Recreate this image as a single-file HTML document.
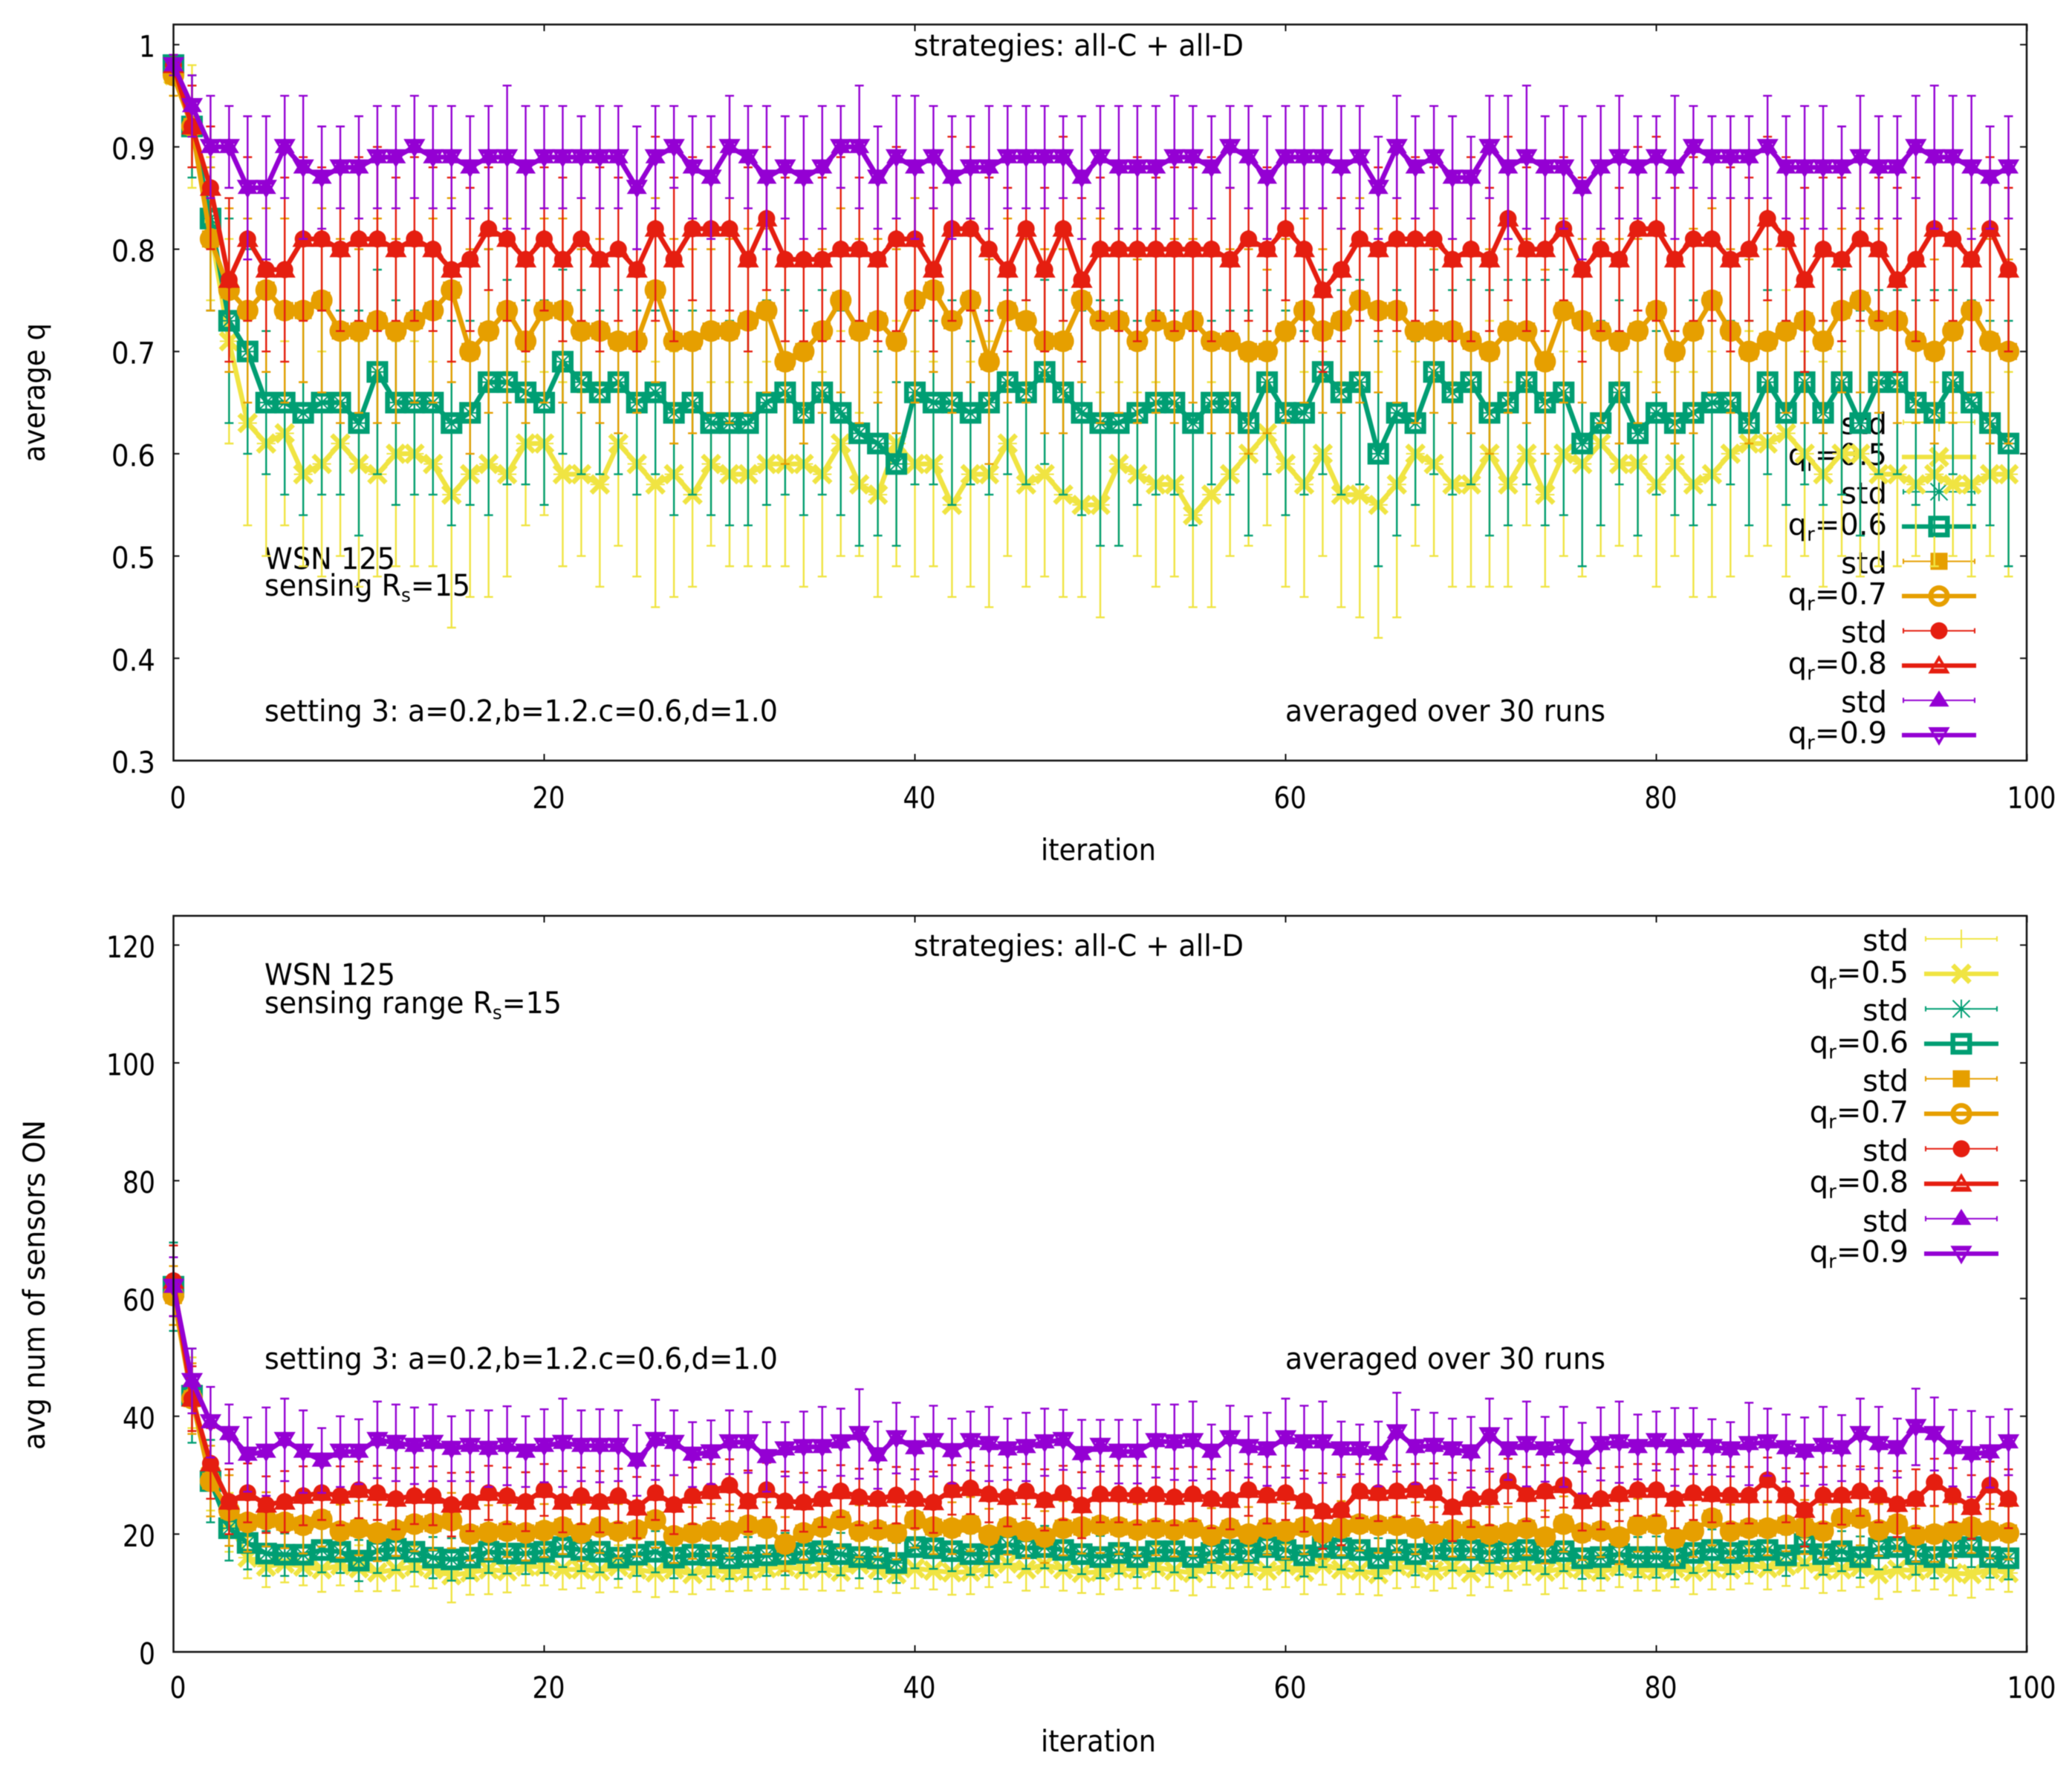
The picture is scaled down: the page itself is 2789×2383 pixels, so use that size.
<!DOCTYPE html>
<html lang="en">
<head>
<meta charset="utf-8">
<title>WSN 125 average q and sensors ON</title>
<style>
html,body{margin:0;padding:0;background:#fff;}
svg{display:block;filter:blur(.5px);}
text{font-family:"DejaVu Sans","Liberation Sans",sans-serif;font-size:40px;fill:#000;}
</style>
</head>
<body>
<svg id="figure" xmlns="http://www.w3.org/2000/svg" width="2789" height="2383" viewBox="0 0 2789 2383">
<rect x="0" y="0" width="2789" height="2383" fill="#fff"/>

<g id="panel-q">
  <g id="q-ticks"></g>
  <text transform="translate(60,622) rotate(-90)" textLength="187" lengthAdjust="spacingAndGlyphs">average q</text>
  <text x="1401" y="1158" textLength="155" lengthAdjust="spacingAndGlyphs">iteration</text>
  <text x="1230" y="75" textLength="444" lengthAdjust="spacingAndGlyphs">strategies: all-C + all-D</text>
  <text x="356" y="766" textLength="176" lengthAdjust="spacingAndGlyphs">WSN 125</text>
  <text x="356" y="802" textLength="277" lengthAdjust="spacingAndGlyphs">sensing R<tspan font-size="26" dy="8">s</tspan><tspan dy="-8">=15</tspan></text>
  <text x="356" y="971" textLength="691" lengthAdjust="spacingAndGlyphs">setting 3: a=0.2,b=1.2.c=0.6,d=1.0</text>
  <text x="1730" y="971" textLength="431" lengthAdjust="spacingAndGlyphs">averaged over 30 runs</text>
  <g text-anchor="end">
    <text x="2540" y="584.5">std</text>
    <text x="2540" y="626">q<tspan font-size="26" dy="8">r</tspan><tspan dy="-8">=0.5</tspan></text>
    <text x="2540" y="678">std</text>
    <text x="2540" y="720">q<tspan font-size="26" dy="8">r</tspan><tspan dy="-8">=0.6</tspan></text>
    <text x="2540" y="772">std</text>
    <text x="2540" y="813.5">q<tspan font-size="26" dy="8">r</tspan><tspan dy="-8">=0.7</tspan></text>
    <text x="2540" y="865">std</text>
    <text x="2540" y="907">q<tspan font-size="26" dy="8">r</tspan><tspan dy="-8">=0.8</tspan></text>
    <text x="2540" y="959">std</text>
    <text x="2540" y="1000.5">q<tspan font-size="26" dy="8">r</tspan><tspan dy="-8">=0.9</tspan></text>
  </g>
  <g id="q-legend-samples"></g>
  <g id="q-marks"></g>
  <rect x="233.5" y="33" width="2494.5" height="991" fill="none" stroke="#111" stroke-width="2.5"/>
</g>

<g id="panel-on">
  <g id="on-ticks"></g>
  <text transform="translate(60,1952) rotate(-90)" textLength="444" lengthAdjust="spacingAndGlyphs">avg num of sensors ON</text>
  <text x="1401" y="2358" textLength="155" lengthAdjust="spacingAndGlyphs">iteration</text>
  <text x="1230" y="1287" textLength="444" lengthAdjust="spacingAndGlyphs">strategies: all-C + all-D</text>
  <text x="356" y="1326" textLength="176" lengthAdjust="spacingAndGlyphs">WSN 125</text>
  <text x="356" y="1364" textLength="400" lengthAdjust="spacingAndGlyphs">sensing range R<tspan font-size="26" dy="8">s</tspan><tspan dy="-8">=15</tspan></text>
  <text x="356" y="1843" textLength="691" lengthAdjust="spacingAndGlyphs">setting 3: a=0.2,b=1.2.c=0.6,d=1.0</text>
  <text x="1730" y="1843" textLength="431" lengthAdjust="spacingAndGlyphs">averaged over 30 runs</text>
  <g text-anchor="end">
    <text x="2569" y="1280">std</text>
    <text x="2569" y="1323">q<tspan font-size="26" dy="8">r</tspan><tspan dy="-8">=0.5</tspan></text>
    <text x="2569" y="1374">std</text>
    <text x="2569" y="1417">q<tspan font-size="26" dy="8">r</tspan><tspan dy="-8">=0.6</tspan></text>
    <text x="2569" y="1469">std</text>
    <text x="2569" y="1511">q<tspan font-size="26" dy="8">r</tspan><tspan dy="-8">=0.7</tspan></text>
    <text x="2569" y="1563">std</text>
    <text x="2569" y="1605">q<tspan font-size="26" dy="8">r</tspan><tspan dy="-8">=0.8</tspan></text>
    <text x="2569" y="1658">std</text>
    <text x="2569" y="1699">q<tspan font-size="26" dy="8">r</tspan><tspan dy="-8">=0.9</tspan></text>
  </g>
  <g id="on-legend-samples"></g>
  <g id="on-marks"></g>
  <rect x="233.5" y="1233" width="2494.5" height="991" fill="none" stroke="#111" stroke-width="2.5"/>
</g>
</svg>

<script>
const iterations = [0,1,2,3,4,5,6,7,8,9,10,11,12,13,14,15,16,17,18,19,20,21,22,23,24,25,26,27,28,29,30,31,32,33,34,35,36,37,38,39,40,41,42,43,44,45,46,47,48,49,50,51,52,53,54,55,56,57,58,59,60,61,62,63,64,65,66,67,68,69,70,71,72,73,74,75,76,77,78,79,80,81,82,83,84,85,86,87,88,89,90,91,92,93,94,95,96,97,98,99];
const xTickValues = [0,20,40,60,80,100];
const qTickValues = [0.3,0.4,0.5,0.6,0.7,0.8,0.9,1];
const qTickLabels = ['0.3','0.4','0.5','0.6','0.7','0.8','0.9','1'];
const onTickValues = [0,20,40,60,80,100,120];
const qrLabels = ['0.5','0.6','0.7','0.8','0.9'];

const avgQ05 = [.97,.92,.82,.71,.63,.61,.62,.58,.59,.61,.59,.58,.60,.60,.59,.56,.58,.59,.58,.61,.61,.58,.58,.57,.61,.59,.57,.58,.56,.59,.58,.58,.59,.59,.59,.58,.61,.57,.56,.61,.59,.59,.55,.58,.58,.61,.57,.58,.56,.55,.55,.59,.58,.57,.57,.54,.56,.58,.60,.62,.59,.57,.60,.56,.56,.55,.57,.60,.59,.57,.57,.60,.57,.60,.56,.60,.59,.61,.59,.59,.57,.59,.57,.58,.60,.61,.61,.62,.60,.58,.60,.60,.58,.58,.57,.58,.57,.57,.58,.58];
const avgQ06 = [.98,.92,.83,.73,.70,.65,.65,.64,.65,.65,.63,.68,.65,.65,.65,.63,.64,.67,.67,.66,.65,.69,.67,.66,.67,.65,.66,.64,.65,.63,.63,.63,.65,.66,.64,.66,.64,.62,.61,.59,.66,.65,.65,.64,.65,.67,.66,.68,.66,.64,.63,.63,.64,.65,.65,.63,.65,.65,.63,.67,.64,.64,.68,.66,.67,.60,.64,.63,.68,.66,.67,.64,.65,.67,.65,.66,.61,.63,.66,.62,.64,.63,.64,.65,.65,.63,.67,.64,.67,.64,.67,.63,.67,.67,.65,.64,.67,.65,.63,.61];
const avgQ07 = [.97,.92,.81,.76,.74,.76,.74,.74,.75,.72,.72,.73,.72,.73,.74,.76,.70,.72,.74,.71,.74,.74,.72,.72,.71,.71,.76,.71,.71,.72,.72,.73,.74,.69,.70,.72,.75,.72,.73,.71,.75,.76,.73,.75,.69,.74,.73,.71,.71,.75,.73,.73,.71,.73,.72,.73,.71,.71,.70,.70,.72,.74,.72,.73,.75,.74,.74,.72,.72,.72,.71,.70,.72,.72,.69,.74,.73,.72,.71,.72,.74,.70,.72,.75,.72,.70,.71,.72,.73,.71,.74,.75,.73,.73,.71,.70,.72,.74,.71,.70];
const avgQ08 = [.98,.92,.86,.77,.81,.78,.78,.81,.81,.80,.81,.81,.80,.81,.80,.78,.79,.82,.81,.79,.81,.79,.81,.79,.80,.78,.82,.79,.82,.82,.82,.79,.83,.79,.79,.79,.80,.80,.79,.81,.81,.78,.82,.82,.80,.78,.82,.78,.82,.77,.80,.80,.80,.80,.80,.80,.80,.79,.81,.80,.82,.80,.76,.78,.81,.80,.81,.81,.81,.79,.80,.79,.83,.80,.80,.82,.78,.80,.79,.82,.82,.79,.81,.81,.79,.80,.83,.81,.77,.80,.79,.81,.80,.77,.79,.82,.81,.79,.82,.78];
const avgQ09 = [.98,.94,.90,.90,.86,.86,.90,.88,.87,.88,.88,.89,.89,.90,.89,.89,.88,.89,.89,.88,.89,.89,.89,.89,.89,.86,.89,.90,.88,.87,.90,.89,.87,.88,.87,.88,.90,.90,.87,.89,.88,.89,.87,.88,.88,.89,.89,.89,.89,.87,.89,.88,.88,.88,.89,.89,.88,.90,.89,.87,.89,.89,.89,.88,.89,.86,.90,.88,.89,.87,.87,.90,.88,.89,.88,.88,.86,.88,.89,.88,.89,.88,.90,.89,.89,.89,.90,.88,.88,.88,.88,.89,.88,.88,.90,.89,.89,.88,.87,.88];

const stdQ05 = [.02,.06,.07,.10,.10,.11,.09,.09,.11,.11,.12,.10,.11,.11,.10,.13,.12,.13,.10,.08,.07,.09,.08,.10,.10,.11,.12,.12,.09,.08,.09,.09,.10,.10,.12,.10,.11,.07,.10,.12,.11,.10,.09,.11,.13,.11,.10,.10,.10,.09,.11,.08,.08,.10,.09,.09,.11,.08,.09,.09,.12,.11,.10,.11,.12,.13,.13,.09,.09,.10,.10,.13,.10,.07,.09,.10,.11,.11,.08,.09,.10,.09,.11,.12,.12,.11,.10,.14,.10,.11,.10,.12,.09,.09,.07,.09,.07,.09,.08,.10];
const stdQ06 = [.01,.05,.09,.10,.10,.07,.09,.10,.09,.09,.11,.10,.10,.09,.09,.10,.09,.13,.10,.09,.10,.09,.09,.08,.09,.09,.08,.10,.09,.09,.10,.10,.10,.10,.10,.10,.10,.11,.09,.08,.09,.08,.10,.07,.09,.09,.09,.09,.10,.10,.12,.12,.09,.09,.09,.10,.08,.09,.11,.09,.10,.08,.10,.10,.10,.11,.12,.08,.10,.10,.10,.12,.12,.10,.12,.12,.12,.10,.09,.10,.08,.09,.11,.10,.08,.10,.09,.09,.10,.09,.11,.11,.09,.09,.10,.12,.09,.10,.10,.12];
const stdQ07 = [.02,.04,.07,.08,.09,.08,.09,.07,.09,.09,.08,.10,.09,.08,.09,.09,.10,.08,.09,.08,.09,.09,.08,.09,.09,.07,.09,.10,.09,.08,.09,.09,.08,.10,.09,.08,.09,.09,.08,.09,.10,.08,.09,.08,.10,.09,.08,.09,.09,.08,.10,.09,.08,.09,.09,.08,.09,.09,.10,.08,.09,.09,.08,.09,.10,.08,.09,.09,.08,.09,.09,.10,.08,.09,.09,.09,.08,.09,.10,.09,.08,.09,.10,.09,.08,.09,.09,.08,.10,.09,.08,.09,.09,.10,.08,.09,.09,.08,.10,.09];
const stdQ08 = [.01,.04,.06,.08,.08,.08,.09,.08,.07,.08,.08,.09,.07,.08,.08,.09,.07,.06,.08,.09,.07,.08,.08,.09,.07,.08,.09,.08,.07,.08,.08,.09,.07,.08,.08,.08,.09,.07,.08,.09,.07,.08,.09,.08,.07,.08,.07,.08,.09,.08,.07,.08,.09,.07,.08,.08,.09,.07,.08,.08,.07,.09,.08,.07,.08,.08,.09,.08,.07,.08,.09,.07,.08,.08,.08,.07,.09,.08,.07,.08,.09,.07,.08,.08,.09,.07,.08,.08,.09,.07,.08,.08,.07,.09,.08,.07,.08,.09,.07,.08];
const stdQ09 = [.01,.03,.05,.04,.07,.07,.05,.07,.05,.04,.05,.05,.05,.05,.05,.05,.05,.05,.07,.06,.05,.05,.04,.05,.05,.06,.05,.04,.05,.06,.05,.05,.07,.05,.06,.06,.04,.06,.05,.06,.07,.05,.06,.05,.06,.05,.05,.05,.04,.06,.05,.06,.06,.06,.06,.05,.05,.04,.05,.06,.05,.05,.05,.06,.05,.05,.05,.05,.05,.06,.04,.05,.07,.07,.05,.06,.07,.06,.06,.05,.04,.07,.04,.04,.04,.04,.05,.05,.06,.06,.04,.06,.05,.05,.05,.07,.06,.07,.05,.05];

const sensorsOn05 = [61.5,44,30,22,16,14.5,15,14.5,14,14.7,14.2,13.5,14,14.5,14,13,13.5,14,13.7,14.5,14.5,14,14,13.7,14.5,14,13.5,14,13.2,14,13.5,13.8,14.2,14.5,14,14.2,13.6,14.8,14,13.2,14.2,13.8,13.5,13.6,14.2,15,14,14.8,14,13.4,13.6,14.2,14,14.4,13.8,13.4,14.6,14,14.4,13.8,14.6,13.6,14.8,14,13.8,13.2,14.6,14.2,13.8,14.4,13.4,14.4,14,14.6,13.6,14.2,14,13.6,14.4,14,13.8,14.2,13.6,14.2,14,14.8,14.2,14.6,15,13.8,14,14.4,13.2,14,13.8,14.2,13.4,13.2,14,13.4];
const sensorsOn06 = [62,43.5,29,21,18.5,16.7,16.5,16.5,17.3,17,15.5,17.2,17.5,17,16,15.7,16,17,16.7,16.7,17,17.8,17.3,17,16,16.5,17,16,16.5,16.4,15.9,16.1,16.4,16.6,16.8,17.1,16.6,16.1,15.9,15.1,17.8,17.6,17.1,16.6,16.6,18.3,17.6,17.8,17.3,16.6,16.1,16.8,16.1,17.1,17.1,16.1,16.8,17.3,16.8,17.8,17.3,16.4,17.8,17.6,17.3,15.9,17.3,16.6,17.5,17.3,17.3,16.8,17.1,17.3,16.8,17.1,15.9,16.1,16.6,16.1,16.1,15.9,16.8,17.3,16.8,17.1,17.3,16.4,18.3,16.6,17.1,16.1,17.6,17.8,16.6,16.1,17.8,17.8,16.1,15.9];
const sensorsOn07 = [60.5,43,29,24,22,22.5,22,21.5,22.5,20.5,21,20.2,20.7,21.7,21.8,22.3,20,20.3,20.5,20.2,20.6,21.2,20.2,21.2,20.5,20.7,22.4,19.7,20.2,20.5,20.5,21.5,21,18.3,20.2,21.2,22.4,20.5,20.7,20.2,22.4,21.2,21,21.7,19.8,21.2,20.5,19.5,21,21.2,21.5,21.2,20.7,21,20.7,21,19.8,21,20,21,20.5,21.2,20.2,21,21.7,21.5,21.5,21,20,20.7,20.7,20,20.2,21,19.5,21.7,20.2,20.5,19.5,21.5,21.7,19.3,20.5,22.7,20.5,21,21,21.5,21.2,20.5,22.7,22.7,20.7,21.7,19.8,20,20.5,21.2,20.5,20.2];
const sensorsOn08 = [63,43,32,25.5,27,25,25.5,26.5,27,26.5,27.5,27,26,26.5,26.5,25,25.5,27,26.5,25.5,27.5,25.5,26.5,25.5,26.5,24.5,27,25,26.5,27.3,28.3,25.6,27.5,25.6,25.4,26,27.3,26.3,26,26.6,26,25.4,27.5,27.8,26.8,26.3,27.3,25.8,27,24.9,26.8,26.8,26.6,26.8,26.3,26.8,26,25.8,27.5,26.6,27,25.6,23.9,24.1,27.3,27,27.3,27.5,27,24.6,26,26.3,29,26.8,27.3,28.3,25.6,26,26.8,27.5,27.5,26,27,26.8,26.6,26.6,29.2,26.6,24.1,26.6,26.6,27.3,26.6,25.1,26,28.8,26.6,24.6,28.3,26];
const sensorsOn09 = [62,46,39,37,33.5,34,36,34,32.5,34,34,36,35.5,35,35.5,34.5,35,34.5,35,34,35,35.5,35,35,35,32.5,36,35.5,33.5,33.9,35.6,35.6,33.1,34.4,34.8,34.8,35.6,37,33.4,36.3,34.6,35.8,34.1,35.8,35.3,34.4,34.8,35.6,36,33.6,35,34,34,35.8,35.6,35.8,34,36.3,34.8,34.4,36.3,35.6,35.6,34.4,34.4,33.6,37.3,34.8,35,34.4,33.9,36.8,34.4,35.3,34.4,34.8,32.9,35.3,35.6,34.8,35.8,34.8,35.8,34.8,34.4,35.3,35.6,34.6,34,35,34.6,37,35.3,34.6,38.2,37,34.6,33.6,33.9,35.6];

const stdOn05 = [2.5,6,6,5,3.5,3.5,3.2,3.2,3.8,3.4,3.9,3.2,3.6,3.4,3.2,4.6,3.8,4.2,3.6,3.2,3.2,3.4,3.2,3.6,3.6,3.8,4.2,3.8,3.4,3.4,3.2,3.4,3.6,3.8,3.4,3.8,3.2,4,3.8,3.2,3.4,3.2,3.8,3.8,3.2,3.2,3.6,3.8,3.6,3.4,3.8,3.6,3.2,3.6,3.4,3.8,3.6,3.2,3.4,3.2,3.6,3.8,3.4,4.2,4,3.6,3.8,3.2,3.4,3.6,3.8,3.4,3.6,3.2,3.8,3.4,3.6,3.2,3.4,3.6,3.4,3.2,3.8,3.6,3.4,3.2,3.6,3.4,4.2,3.8,3.6,3.4,4.2,3.8,3.4,3.6,3.8,4,3.4,3.2];
const stdOn06 = [7.5,8,7,5.5,4.5,3.8,3.6,3.6,3.8,3.6,3.5,3.8,3.6,3.4,3.5,3.6,3.5,3.6,3.4,3.5,3.6,3.4,3.6,3.5,3.6,3.6,3.5,3.5,3.4,3.6,3.5,3.4,3.5,3.6,3.4,3.5,3.6,3.6,3.5,3.4,3.6,3.5,3.4,3.5,3.6,3.4,3.5,3.6,3.5,3.4,3.6,3.5,3.4,3.5,3.6,3.5,3.4,3.5,3.6,3.4,3.5,3.6,3.4,3.6,3.5,3.4,3.5,3.6,3.4,3.5,3.6,3.5,3.4,3.5,3.6,3.4,3.5,3.6,3.5,3.4,3.5,3.6,3.4,3.5,3.6,3.5,3.4,3.5,3.6,3.5,3.4,3.5,3.6,3.4,3.5,3.6,3.5,3.4,3.5,3.6];
const stdOn07 = [5,6,6,6,5,4.6,4.4,4.8,4.6,4.5,4.6,4.8,4.4,4.6,4.5,4.7,4.5,4.6,4.4,4.7,4.5,4.6,4.8,4.4,4.6,4.5,4.7,4.6,4.4,4.6,4.5,4.7,4.4,4.6,4.5,4.6,4.8,4.4,4.6,4.5,4.7,4.6,4.4,4.6,4.5,4.7,4.6,4.4,4.6,4.5,4.7,4.6,4.4,4.6,4.5,4.7,4.6,4.4,4.6,4.5,4.7,4.6,4.4,4.6,4.5,4.7,4.6,4.4,4.6,4.5,4.7,4.6,4.4,4.6,4.5,4.7,4.6,4.4,4.6,4.5,4.7,4.6,4.4,4.6,4.5,4.7,4.6,4.4,4.6,4.5,4.7,4.6,4.4,4.6,4.5,4.7,4.6,4.4,4.6,4.5];
const stdOn08 = [6,5.5,6,5.5,5,4.8,5.2,5,4.6,5,4.8,4.6,5.2,4.8,5,5.4,5,4.6,4.8,5,4.4,5.2,4.8,5.2,4.6,5.2,4.6,5,4.8,4.6,4.4,5.2,4.6,5,5,4.8,4.4,4.8,5,4.8,5,5.2,4.2,4.4,4.8,5,4.6,5.2,4.6,5.6,4.8,4.8,5,4.6,4.8,4.6,5,5,4.4,4.8,4.6,5.2,6.4,6,4.6,4.8,4.4,4.4,5,5.8,4.8,4.8,3.8,4.6,4.4,3.8,5,5.2,4.6,4.4,4.4,5,4.6,4.8,4.8,4.8,3.8,4.6,6.2,4.8,5,4.2,4.6,5.6,5,4,4.6,5.4,4,5];
const stdOn09 = [5,5.5,6,5,6.3,7.5,7,7,5.5,6,5.5,6.5,6.5,6.5,6.5,5.5,6,6.5,6.7,6,6.2,7.5,6,6.2,6,6,6.8,5.5,5.5,5.4,5.4,5.2,5.9,4.6,6,6.8,5.7,7.6,5.7,6,5.3,6,5.5,5,6.3,5.2,5.8,5.7,5.1,5.8,4.4,5.4,5.4,6.2,6.4,6.7,4.6,5.5,5.2,6.2,6.7,6.2,6.9,4.7,4.2,5.5,6.7,6.3,5.6,5.2,6,6.2,5.2,7.2,5.5,6.8,6,6.2,6.9,5.5,5,6.6,5.6,4.7,4.6,7,5.7,5.7,5.8,6.6,5.6,6,6.3,5,6.5,6.2,6.5,7.3,6,5.6];

const NS = 'http://www.w3.org/2000/svg';
const YELLOW = '#f0e442', GREEN = '#009e73', ORANGE = '#e69f00', RED = '#e51e10', PURPLE = '#9400d3';

function xAxis(i) { return 233.5 + i * 24.95; }
function yAxisQ(v) { return 1024 - (v - 0.3) * 1377; }
function yAxisOn(v) { return 2224 - v * 7.93; }

function make(tag, parent, attrs) {
  const el = document.createElementNS(NS, tag);
  for (const k in attrs) el.setAttribute(k, attrs[k]);
  parent.appendChild(el);
  return el;
}

/* thin marker used by the std (error-bar) plot */
function stdMarker(kind, g, x, y, color) {
  if (kind === 'plus') {
    make('path', g, {d:`M${x} ${y-12.5}V${y+12.5}M${x-12.5} ${y}H${x+12.5}`, stroke:color, 'stroke-width':2, fill:'none'});
  } else if (kind === 'star') {
    make('path', g, {d:`M${x} ${y-12.5}V${y+12.5}M${x-11.5} ${y-11.5}L${x+11.5} ${y+11.5}M${x-11.5} ${y+11.5}L${x+11.5} ${y-11.5}M${x-12} ${y}H${x+12}`, stroke:color, 'stroke-width':2, fill:'none'});
  } else if (kind === 'square') {
    make('rect', g, {x:x-11.5, y:y-11.5, width:23, height:23, fill:color});
  } else if (kind === 'circle') {
    make('circle', g, {cx:x, cy:y, r:11.5, fill:color});
  } else {
    make('path', g, {d:`M${x} ${y-13.3}L${x+13.5} ${y+8.3}H${x-13.5}Z`, fill:color});
  }
}

/* heavy open marker used by the mean plot */
function mainMarker(kind, g, x, y, color) {
  const base = {stroke:color, 'stroke-width':6.5, fill:'none'};
  if (kind === 'cross') {
    make('path', g, Object.assign({d:`M${x-11.5} ${y-11.5}L${x+11.5} ${y+11.5}M${x-11.5} ${y+11.5}L${x+11.5} ${y-11.5}`}, base));
  } else if (kind === 'square') {
    make('rect', g, Object.assign({x:x-11.3, y:y-11.3, width:22.6, height:22.6}, base));
  } else if (kind === 'circle') {
    make('circle', g, Object.assign({cx:x, cy:y, r:11.3}, base));
  } else if (kind === 'triangle') {
    make('path', g, {d:`M${x} ${y-14.3}L${x+14.6} ${y+10.7}H${x-14.6}ZM${x} ${y-6.5}L${x-7.5} ${y+4.2}H${x+7.5}Z`, fill:color, 'fill-rule':'evenodd'});
  } else {
    make('path', g, {d:`M${x} ${y+14.3}L${x+14.6} ${y-10.7}H${x-14.6}ZM${x} ${y+6.5}L${x-7.5} ${y-4.2}H${x+7.5}Z`, fill:color, 'fill-rule':'evenodd'});
  }
}

function drawSeries(parent, yAxis, qr, values, stds, color, stdKind, mainKind) {
  const stdGroup = make('g', parent, {});
  
  
  for (let k = 0; k < iterations.length; k++) {
    const x = xAxis(iterations[k]);
    const y = yAxis(values[k]);
    const y1 = yAxis(values[k] + stds[k]);
    const y2 = yAxis(values[k] - stds[k]);
    const g = make('g', stdGroup, {});
    
    
    make('path', g, {d:`M${x} ${y1}V${y2}M${x-6} ${y1}H${x+6}M${x-6} ${y2}H${x+6}`, stroke:color, 'stroke-width':2.4, fill:'none'});
    stdMarker(stdKind, g, x, y, color);
  }
  const line = make('polyline', parent, {
    points: iterations.map((it, k) => xAxis(it) + ',' + yAxis(values[k])).join(' '),
    fill:'none', stroke:color, 'stroke-width':6.5, 'stroke-linejoin':'round'
  });
  
  
  const markerGroup = make('g', parent, {});
  
  
  for (let k = 0; k < iterations.length; k++) {
    const g = make('g', markerGroup, {});
    
    
    mainMarker(mainKind, g, xAxis(iterations[k]), yAxis(values[k]), color);
  }
}

function drawTicks(parent, yAxis, yValues, yLabels, xBaseline, yTop, yBottom) {
  const path = [];
  xTickValues.forEach(v => {
    const x = xAxis(v);
    path.push(`M${x} ${yBottom}v-9M${x} ${yTop}v9`);
    const t = make('text', parent, {x: x + 6, y: xBaseline, 'text-anchor':'middle', textLength: String(v).length * 22, lengthAdjust:'spacingAndGlyphs'});
    t.textContent = String(v);
    
    
  });
  yValues.forEach((v, idx) => {
    const y = yAxis(v);
    path.push(`M233.5 ${y}h8M2728 ${y}h-9`);
    const s = yLabels[idx];
    const w = s.length === 3 && s.indexOf('.') > 0 ? 59 : s.length * 22;
    const t = make('text', parent, {x: 209, y: y + 16.5, 'text-anchor':'end', textLength: w, lengthAdjust:'spacingAndGlyphs'});
    t.textContent = s;
    
    
  });
  const ticks = make('path', parent, {d:path.join(''), stroke:'#111', 'stroke-width':2, fill:'none'});
  
  
}

function drawLegendSamples(parent, cx, rowStart, rowStep) {
  const colors = [YELLOW, GREEN, ORANGE, RED, PURPLE];
  const stdKinds = ['plus', 'star', 'square', 'circle', 'triangle'];
  const mainKinds = ['cross', 'square', 'circle', 'triangle', 'inverted'];
  qrLabels.forEach((qr, i) => {
    const y1 = rowStart + rowStep * i * 2;
    const y2 = y1 + rowStep;
    const a = make('g', parent, {});
    
    
    make('path', a, {d:`M${cx-48} ${y1}H${cx+48}M${cx-48} ${y1-3.5}v7M${cx+48} ${y1-3.5}v7`, stroke:colors[i], 'stroke-width':2, fill:'none'});
    stdMarker(stdKinds[i], a, cx, y1, colors[i]);
    const b = make('g', parent, {});
    
    
    make('path', b, {d:`M${cx-50} ${y2}H${cx+50}`, stroke:colors[i], 'stroke-width':6, fill:'none'});
    mainMarker(mainKinds[i], b, cx, y2, colors[i]);
  });
}

const qMarks = document.getElementById('q-marks');
const onMarks = document.getElementById('on-marks');

drawTicks(document.getElementById('q-ticks'), yAxisQ, qTickValues, qTickLabels, 1088, 33, 1024);
drawTicks(document.getElementById('on-ticks'), yAxisOn, onTickValues, onTickValues.map(String), 2286, 1233, 2224);
drawLegendSamples(document.getElementById('q-legend-samples'), 2610, 568.5, 46.8);
drawLegendSamples(document.getElementById('on-legend-samples'), 2640, 1264, 47.1);

drawSeries(qMarks, yAxisQ, '0.5', avgQ05, stdQ05, YELLOW, 'plus', 'cross');
drawSeries(qMarks, yAxisQ, '0.6', avgQ06, stdQ06, GREEN, 'star', 'square');
drawSeries(qMarks, yAxisQ, '0.7', avgQ07, stdQ07, ORANGE, 'square', 'circle');
drawSeries(qMarks, yAxisQ, '0.8', avgQ08, stdQ08, RED, 'circle', 'triangle');
drawSeries(qMarks, yAxisQ, '0.9', avgQ09, stdQ09, PURPLE, 'triangle', 'inverted');

drawSeries(onMarks, yAxisOn, '0.5', sensorsOn05, stdOn05, YELLOW, 'plus', 'cross');
drawSeries(onMarks, yAxisOn, '0.6', sensorsOn06, stdOn06, GREEN, 'star', 'square');
drawSeries(onMarks, yAxisOn, '0.7', sensorsOn07, stdOn07, ORANGE, 'square', 'circle');
drawSeries(onMarks, yAxisOn, '0.8', sensorsOn08, stdOn08, RED, 'circle', 'triangle');
drawSeries(onMarks, yAxisOn, '0.9', sensorsOn09, stdOn09, PURPLE, 'triangle', 'inverted');
</script>
</body>
</html>
